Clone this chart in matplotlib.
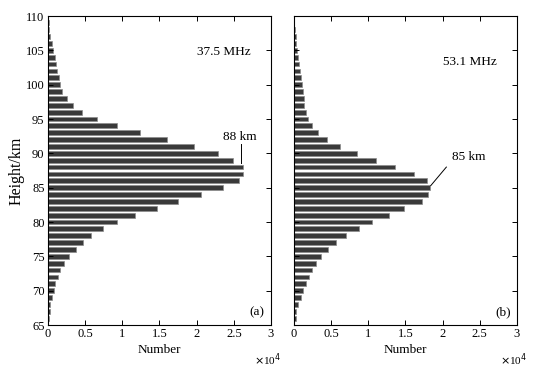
import numpy as np
import matplotlib.pyplot as plt

plt.rcParams['font.family'] = ['Liberation Serif', 'DejaVu Serif']
plt.rcParams['font.size'] = 9

# heights (km), bar counts in units of 1e4
heights = list(range(66, 110))

count_375 = [0.013, 0.022, 0.031, 0.054, 0.076, 0.094, 0.135, 0.166, 0.22, 0.283,
             0.373, 0.467, 0.584, 0.741, 0.929, 1.167, 1.468, 1.751, 2.052, 2.357,
             2.573, 2.622, 2.622, 2.483, 2.281, 1.971, 1.599, 1.244, 0.934, 0.665,
             0.463, 0.337, 0.256, 0.193, 0.166, 0.144, 0.126, 0.11, 0.09, 0.067,
             0.049, 0.031, 0.018, 0.009]

count_531 = [0.023, 0.032, 0.05, 0.09, 0.126, 0.158, 0.198, 0.239, 0.293, 0.369,
             0.459, 0.568, 0.703, 0.869, 1.054, 1.284, 1.482, 1.716, 1.797, 1.833,
             1.793, 1.613, 1.365, 1.108, 0.847, 0.617, 0.446, 0.329, 0.243, 0.185,
             0.158, 0.14, 0.131, 0.117, 0.104, 0.095, 0.077, 0.068, 0.054, 0.036,
             0.032, 0.023, 0.014, 0.004]

xticks = [0, 0.5, 1, 1.5, 2, 2.5, 3]
xtick_labels = ['0', '0.5', '1', '1.5', '2', '2.5', '3']
yticks = [65, 70, 75, 80, 85, 90, 95, 100, 105, 110]

fig = plt.figure(figsize=(5.35, 3.68), dpi=100)
ax1 = fig.add_axes([0.0897, 0.1168, 0.4168, 0.8397])
ax2 = fig.add_axes([0.5495, 0.1168, 0.4168, 0.8397])

panels = [
    (ax1, count_375, '37.5 MHz', 104.8, '(a)'),
    (ax2, count_531, '53.1 MHz', 103.3, '(b)'),
]

for ax, counts, freq, fy, tag in panels:
    ax.barh(heights, counts, height=0.7, color='#3a3a3a',
            edgecolor='#8c8c8c', linewidth=0.5)
    ax.set_xlim(0, 3)
    ax.set_ylim(65, 110)
    ax.set_xticks(xticks)
    ax.set_xticklabels(xtick_labels)
    ax.set_yticks(yticks)
    ax.tick_params(direction='in', top=True, right=True, length=3.5, width=0.7, pad=2.5)
    for s in ax.spines.values():
        s.set_linewidth(0.8)
    ax.set_xlabel('Number', labelpad=2.5, fontsize=9.5)
    ax.text(2.37, fy, freq, ha='center', va='center', fontsize=9.5)
    ax.text(2.81, 66.8, tag, ha='center', va='center', fontsize=9.5)
    ax.text(2.96, -0.085, r'$\times$10$^4$', transform=ax.get_xaxis_transform(),
            ha='center', va='top', fontsize=8)

ax1.set_ylabel('Height/km', labelpad=1, fontsize=11.5)
ax2.set_yticklabels([])

# peak annotations
ax1.plot([2.59, 2.59], [88.6, 91.4], color='black', lw=0.7)
ax1.text(2.58, 92.4, '88 km', ha='center', va='center', fontsize=9.5)
ax2.plot([1.84, 2.05], [85.3, 88.0], color='black', lw=0.7)
ax2.text(2.13, 89.5, '85 km', ha='left', va='center', fontsize=9.5)

fig.savefig('out.png', dpi=100)
